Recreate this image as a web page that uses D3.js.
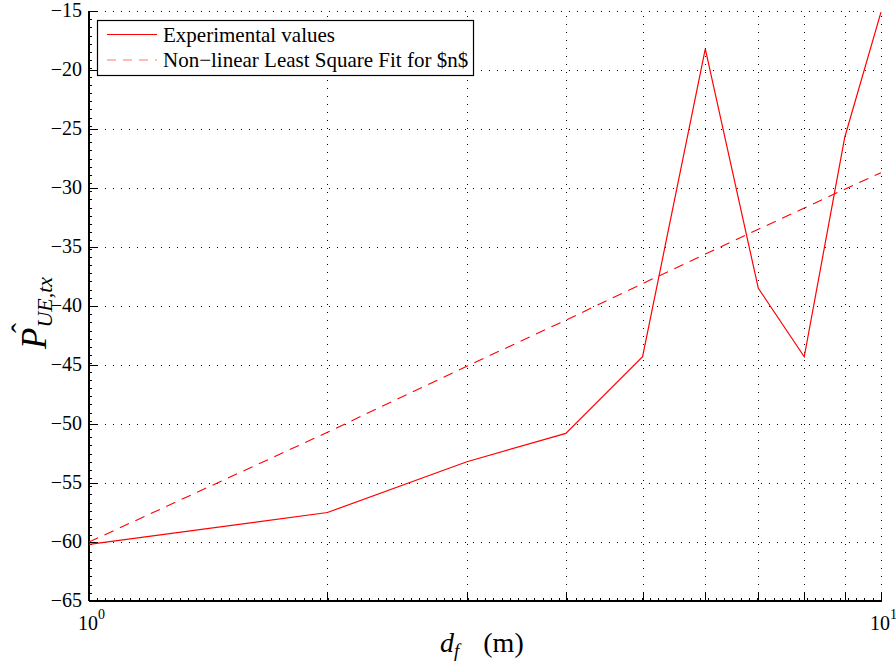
<!DOCTYPE html>
<html>
<head>
<meta charset="utf-8">
<script src="https://cdn.jsdelivr.net/npm/d3@7"></script>
<style>
  body { margin: 0; background: #fff; }
  svg { display: block; font-family: "Liberation Serif", "Times New Roman", serif; }
</style>
</head>
<body>
<svg id="chart" width="896" height="665"></svg>
<script>
// distances (m)
var distances = [1, 2, 3, 4, 5, 6, 7, 8, 9, 10];
// measured values
var experimental = [-60.2, -57.5, -53.2, -50.8, -44.3, -18.2, -38.5, -44.3, -25.7, -15.1];
// fitted curve
var fitValues = [-60.0, -50.7, -45.1, -41.2, -38.1, -35.6, -33.5, -31.7, -30.1, -28.7];

var yTicks = [-65, -60, -55, -50, -45, -40, -35, -30, -25, -20, -15];
var xGrid = [1, 2, 3, 4, 5, 6, 7, 8, 9, 10];
var xMajor = [1, 10];
var xMajorExp = ["0", "1"];
var legendLabels = ["Experimental values", "Non\u2212linear Least Square Fit for $n$"];

var svg = d3.select("#chart");
var pLeft = 89, pRight = 881, pTop = 11, pBottom = 601;

var x = d3.scaleLog().domain([1, 10]).range([pLeft, pRight]);
var y = d3.scaleLinear().domain([-65, -15]).range([pBottom, pTop]);
var px = v => Math.round(v) + 0.5;

// grid lines (dotted)
var grid = svg.append("g").attr("stroke", "#000").attr("stroke-width", 1)
    .attr("stroke-dasharray", "1,7").attr("shape-rendering", "crispEdges");
grid.selectAll("line.gx").data(xGrid.slice(1)).enter().append("line")
    .attr("x1", d => px(x(d))).attr("x2", d => px(x(d)))
    .attr("y1", pBottom).attr("y2", pTop);
grid.selectAll("line.gy").data(yTicks.slice(1)).enter().append("line")
    .attr("x1", pLeft).attr("x2", pRight)
    .attr("y1", d => px(y(d))).attr("y2", d => px(y(d)));

// axes lines
var ax = svg.append("g").attr("stroke", "#000").attr("shape-rendering", "crispEdges");
ax.append("line").attr("x1", pLeft).attr("x2", pLeft).attr("y1", pTop).attr("y2", pBottom).attr("stroke-width", 1.5);
ax.append("line").attr("x1", pLeft).attr("x2", pRight + 1).attr("y1", pBottom).attr("y2", pBottom).attr("stroke-width", 1.5);

// major ticks
ax.selectAll("line.ty").data(yTicks).enter().append("line")
    .attr("x1", pLeft).attr("x2", pLeft + 8)
    .attr("y1", d => px(y(d))).attr("y2", d => px(y(d)));
ax.selectAll("line.tx").data(xGrid).enter().append("line")
    .attr("x1", d => px(x(d))).attr("x2", d => px(x(d)))
    .attr("y1", pBottom).attr("y2", pBottom - 8);

// minor ticks
var yMinor = d3.range(-65, -15, 50 / 72);
ax.selectAll("line.my").data(yMinor).enter().append("line")
    .attr("x1", pLeft).attr("x2", pLeft + 3)
    .attr("y1", d => px(y(d))).attr("y2", d => px(y(d)));
var xMinor = d3.range(0, 1, 1 / 96).map(v => Math.pow(10, v));
ax.selectAll("line.mx").data(xMinor).enter().append("line")
    .attr("x1", d => px(x(d))).attr("x2", d => px(x(d)))
    .attr("y1", pBottom).attr("y2", pBottom - 3);

// y tick labels
svg.append("g").selectAll("text").data(yTicks).enter().append("text")
    .attr("x", pLeft - 7).attr("y", d => y(d) + 6)
    .attr("text-anchor", "end").attr("font-size", 20)
    .text(d => String(d).replace("-", "\u2212"));

// x tick labels 10^n
var xl = svg.append("g").selectAll("text").data(xMajor).enter().append("text")
    .attr("x", d => x(d) - 11).attr("y", 630).attr("font-size", 20);
xl.append("tspan").text("10");
xl.append("tspan").attr("dy", -11).attr("font-size", 14).text((d, i) => xMajorExp[i]);

// series
var line = d3.line().x((d, i) => x(distances[i])).y(d => y(d));
svg.append("path").datum(fitValues).attr("d", line)
    .attr("fill", "none").attr("stroke", "#ff0000").attr("stroke-width", 1.1)
    .attr("stroke-dasharray", "10,7");
svg.append("path").datum(experimental).attr("d", line)
    .attr("fill", "none").attr("stroke", "#ff0000").attr("stroke-width", 1.2);

// legend
var lg = svg.append("g");
lg.append("rect").attr("x", 97.5).attr("y", 20.5).attr("width", 376).attr("height", 55)
    .attr("fill", "#fff").attr("stroke", "#000").attr("stroke-width", 1.2);
var rows = lg.selectAll("g.row").data(legendLabels).enter().append("g")
    .attr("transform", (d, i) => "translate(0," + (34.5 + i * 25.5) + ")");
rows.append("line").attr("x1", 107).attr("x2", 157).attr("y1", 0).attr("y2", 0)
    .attr("stroke", (d, i) => i === 0 ? "#ff0000" : "#ff7777").attr("stroke-width", 1.2)
    .attr("stroke-dasharray", (d, i) => i === 0 ? null : "9,7");
rows.append("text").attr("x", 163).attr("y", 7).attr("font-size", 21).text(d => d);

// x label
var xt = svg.append("text").attr("x", 440).attr("y", 652).attr("font-size", 28);
xt.append("tspan").attr("font-style", "italic").text("d");
xt.append("tspan").attr("font-style", "italic").attr("font-size", 19).attr("dy", 5).text("f");
xt.append("tspan").attr("dy", -5).attr("dx", 24).text("(m)");

// y label
var yt = svg.append("text").attr("transform", "translate(46,349) rotate(-90)")
    .attr("font-size", 35).attr("font-style", "italic");
yt.append("tspan").text("P");
yt.append("tspan").attr("font-size", 22).attr("dy", 6).text("UE,tx");
svg.append("text").attr("transform", "translate(32,328) rotate(-90)")
    .attr("font-size", 30).attr("text-anchor", "middle").text("\u02c6");
</script>
</body>
</html>
